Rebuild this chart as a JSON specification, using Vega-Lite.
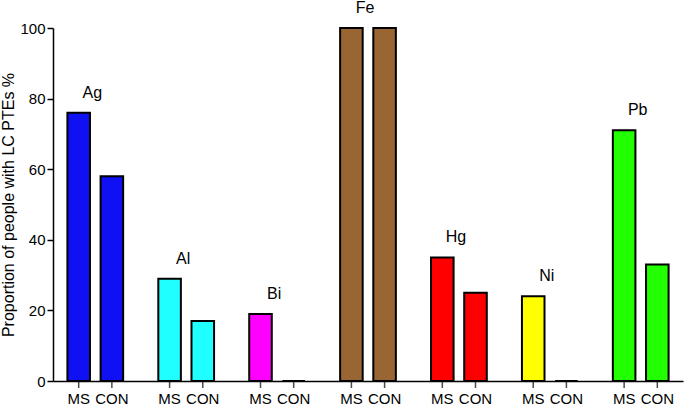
{
  "$schema": "https://vega.github.io/schema/vega-lite/v6.json",
  "width": 630,
  "height": 353,
  "autosize": {"type": "none"},
  "padding": {"left": 53, "top": 28, "right": 2, "bottom": 30},
  "background": "white",
  "config": {
    "view": {"stroke": null},
    "font": "Liberation Sans",
    "axis": {"grid": false},
    "axisY": {
      "labelOverlap": false,
      "tickCount": 10,
      "domainColor": "black",
      "domainWidth": 1.5,
      "tickColor": "black",
      "tickWidth": 1.5,
      "tickSize": 6,
      "labelFontSize": 15,
      "labelColor": "black",
      "labelPadding": 2,
      "titleFontSize": 16,
      "titleFontWeight": "normal",
      "titleColor": "black",
      "titlePadding": 3
    }
  },
  "data": {
    "values": [
      {"element": "Ag", "group": "MS", "value": 76},
      {"element": "Ag", "group": "CON", "value": 58},
      {"element": "Al", "group": "MS", "value": 29},
      {"element": "Al", "group": "CON", "value": 17},
      {"element": "Bi", "group": "MS", "value": 19},
      {"element": "Bi", "group": "CON", "value": 0},
      {"element": "Fe", "group": "MS", "value": 100},
      {"element": "Fe", "group": "CON", "value": 100},
      {"element": "Hg", "group": "MS", "value": 35},
      {"element": "Hg", "group": "CON", "value": 25},
      {"element": "Ni", "group": "MS", "value": 24},
      {"element": "Ni", "group": "CON", "value": 0},
      {"element": "Pb", "group": "MS", "value": 71},
      {"element": "Pb", "group": "CON", "value": 33}
    ]
  },
  "encoding": {
    "x": {
      "field": "element",
      "type": "nominal",
      "sort": ["Ag", "Al", "Bi", "Fe", "Hg", "Ni", "Pb"],
      "scale": {"paddingInner": 0.27, "paddingOuter": 0.1},
      "axis": {"labels": false, "ticks": false, "title": null, "domainColor": "black", "domainWidth": 1.5}
    }
  },
  "layer": [
    {
      "mark": {"type": "bar", "stroke": "black", "strokeWidth": 2},
      "encoding": {
        "xOffset": {"field": "group", "sort": ["MS", "CON"], "scale": {"paddingInner": 0.32, "paddingOuter": 0.16}},
        "y": {
          "field": "value",
          "type": "quantitative",
          "title": "Proportion of people with LC PTEs %",
          "scale": {"domain": [0, 100], "nice": false},
          "axis": {"values": [0, 10, 20, 30, 40, 50, 60, 70, 80, 90, 100], "tickCount": 10, "labelOverlap": false}
        },
        "color": {
          "field": "element",
          "type": "nominal",
          "scale": {
            "domain": ["Ag", "Al", "Bi", "Fe", "Hg", "Ni", "Pb"],
            "range": ["#1010F5", "#1FFFFF", "#FF00FF", "#996633", "#FF0000", "#FFFF00", "#22FF00"]
          },
          "legend": null
        }
      }
    },
    {
      "mark": {"type": "tick", "orient": "vertical", "size": 7, "thickness": 1.5, "color": "black", "yOffset": 3.5},
      "encoding": {
        "xOffset": {"field": "group", "sort": ["MS", "CON"], "scale": {"paddingInner": 0.32, "paddingOuter": 0.16}},
        "y": {"datum": 0, "type": "quantitative", "title": "Proportion of people with LC PTEs %", "axis": {"values": [0, 10, 20, 30, 40, 50, 60, 70, 80, 90, 100], "tickCount": 10, "labelOverlap": false}}
      }
    },
    {
      "mark": {"type": "text", "baseline": "top", "dy": 11, "fontSize": 15, "color": "black"},
      "encoding": {
        "xOffset": {"field": "group", "sort": ["MS", "CON"], "scale": {"paddingInner": 0.32, "paddingOuter": 0.16}},
        "y": {"datum": 0, "type": "quantitative", "title": "Proportion of people with LC PTEs %", "axis": {"values": [0, 10, 20, 30, 40, 50, 60, 70, 80, 90, 100], "tickCount": 10, "labelOverlap": false}},
        "text": {"field": "group"}
      }
    },
    {
      "transform": [{"aggregate": [{"op": "max", "field": "value", "as": "top"}], "groupby": ["element"]}],
      "mark": {"type": "text", "baseline": "alphabetic", "dy": -15, "dx": -3, "fontSize": 16, "color": "black"},
      "encoding": {
        "y": {"field": "top", "type": "quantitative", "title": "Proportion of people with LC PTEs %", "axis": {"values": [0, 10, 20, 30, 40, 50, 60, 70, 80, 90, 100], "tickCount": 10, "labelOverlap": false}},
        "text": {"field": "element"}
      }
    }
  ]
}
